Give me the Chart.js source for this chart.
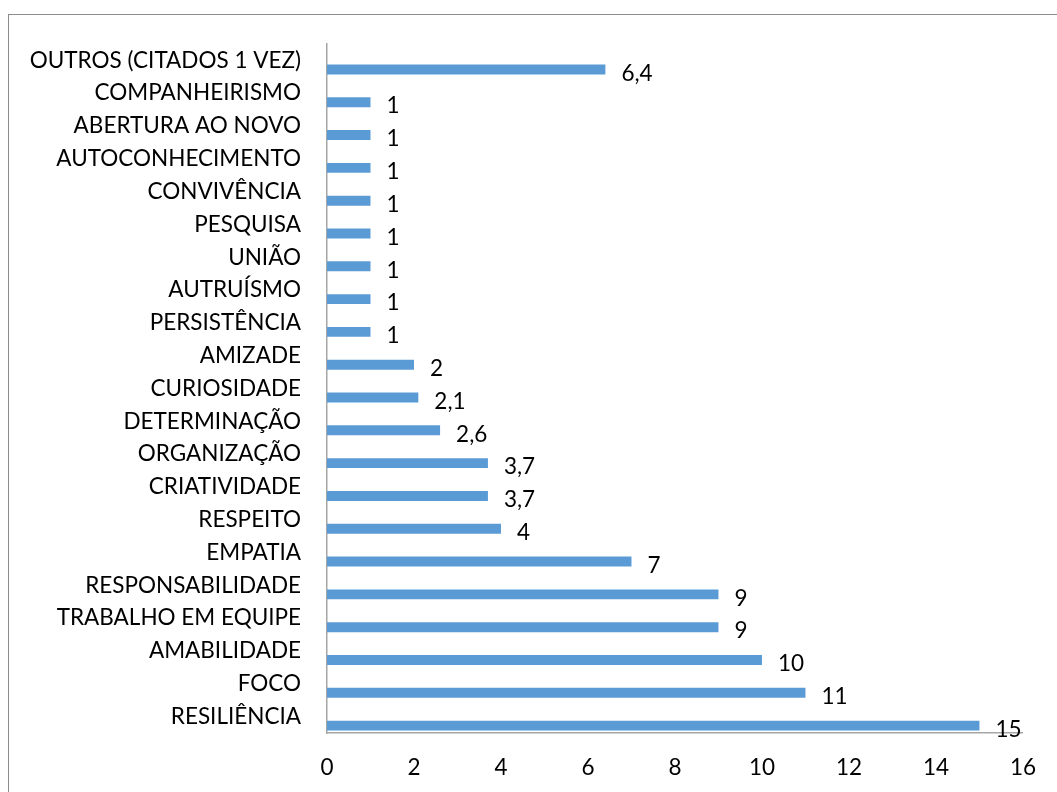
<!DOCTYPE html>
<html>
<head>
<meta charset="utf-8">
<script src="https://cdn.jsdelivr.net/npm/chart.js@4.4.0/dist/chart.umd.min.js"></script>
<style>
  html, body { margin: 0; padding: 0; background: #fff; }
  #frame { position: absolute; left: 8px; top: 14px; width: 1100px; height: 900px; border: 1.5px solid #8c8c8c; }
  #wrap { position: absolute; left: 0; top: 0; width: 1057px; height: 792px; }
</style>
</head>
<body>
<div id="frame"></div>
<div id="wrap"><canvas id="chart" width="1057" height="792"></canvas></div>
<script>
const categories = [
  'OUTROS (CITADOS 1 VEZ)', 'COMPANHEIRISMO', 'ABERTURA AO NOVO', 'AUTOCONHECIMENTO',
  'CONVIVÊNCIA', 'PESQUISA', 'UNIÃO', 'AUTRUÍSMO', 'PERSISTÊNCIA', 'AMIZADE',
  'CURIOSIDADE', 'DETERMINAÇÃO', 'ORGANIZAÇÃO', 'CRIATIVIDADE', 'RESPEITO',
  'EMPATIA', 'RESPONSABILIDADE', 'TRABALHO EM EQUIPE', 'AMABILIDADE', 'FOCO', 'RESILIÊNCIA'
];
const values = [6.4, 1, 1, 1, 1, 1, 1, 1, 1, 2, 2.1, 2.6, 3.7, 3.7, 4, 7, 9, 9, 10, 11, 15];
// série vazia (como no Excel) que empurra as barras para baixo
const emptySeries = categories.map(() => null);
const xTicks = [0, 2, 4, 6, 8, 10, 12, 14, 16];

const FONT = 'Lato, "Open Sans", sans-serif';

// rótulos de valor à direita das barras
const valueLabels = {
  id: 'valueLabels',
  afterDatasetsDraw(chart) {
    const ctx = chart.ctx;
    const meta = chart.getDatasetMeta(1);
    ctx.save();
    ctx.font = '22.5px ' + FONT;
    ctx.fillStyle = '#000';
    ctx.textAlign = 'left';
    ctx.textBaseline = 'middle';
    meta.data.forEach((bar, i) => {
      ctx.fillText(String(values[i]).replace('.', ','), bar.x + 16, bar.y + 4);
    });
    ctx.restore();
  }
};

new Chart(document.getElementById('chart'), {
  type: 'bar',
  data: {
    labels: categories,
    datasets: [
      { data: emptySeries, backgroundColor: 'rgba(0,0,0,0)' },
      { data: values, backgroundColor: '#5b9bd5' }
    ]
  },
  options: {
    indexAxis: 'y',
    responsive: false,
    animation: false,
    categoryPercentage: 1.1,
    barPercentage: 0.55,
    layout: { padding: { top: 44, right: 29, left: 0, bottom: 0 } },
    plugins: { legend: { display: false }, tooltip: { enabled: false } },
    scales: {
      x: {
        min: 0, max: 16,
        afterBuildTicks: s => { s.ticks = xTicks.map(v => ({ value: v })); },
        afterFit: s => { s.height = 59; },
        grid: { display: false, drawTicks: false },
        border: { display: true, color: '#a6a6a6', width: 1.5 },
        ticks: { color: '#000', font: { family: FONT, size: 22.5 }, padding: 21 }
      },
      y: {
        afterFit: s => { s.width = 327; },
        grid: { display: false, drawTicks: false },
        border: { display: true, color: '#a6a6a6', width: 1.5 },
        ticks: { color: '#000', font: { family: FONT, size: 22.5 }, padding: 26, autoSkip: false }
      }
    }
  },
  plugins: [valueLabels]
});
</script>
</body>
</html>
